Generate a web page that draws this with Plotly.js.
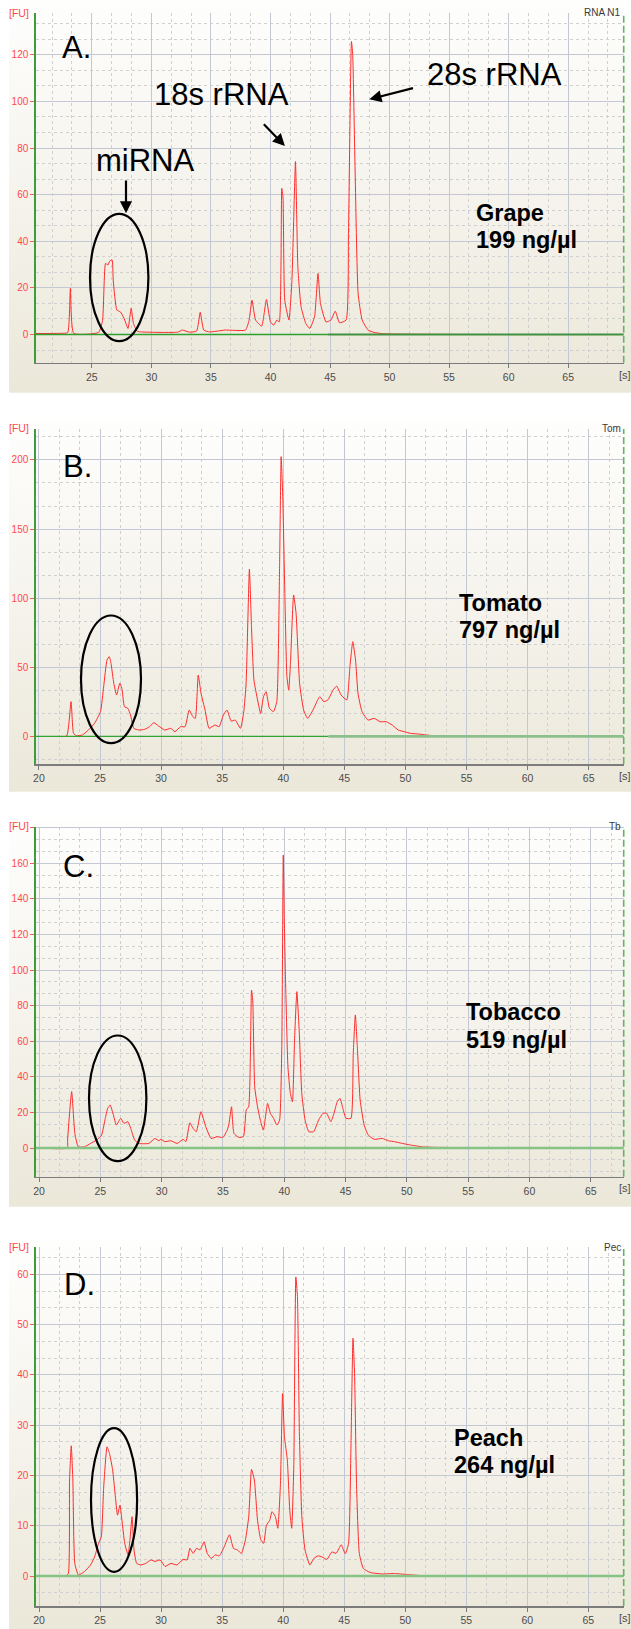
<!DOCTYPE html>
<html><head><meta charset="utf-8">
<script src="https://cdn.plot.ly/plotly-3.0.1.min.js"></script>
<style>html,body{margin:0;padding:0;background:#fff}#chart{width:631px;height:1629px}</style>
</head><body><div id="chart"></div>
<script>
// ---------------- DATA ----------------
const timeA = [20.3,22.4,22.97,23.2,23.48,25.57,25.9,26.15,26.35,26.5,26.7,26.8,27.1,27.4,27.7,28.04,28.3,28.5,28.8,29.1,32.2,32.6,33.2,33.8,34.1,34.4,34.9,36.2,37.9,38.2,38.45,38.75,39.26,39.66,40.0,40.27,40.54,40.74,40.95,41.05,41.2,41.55,41.8,42.1,42.3,42.57,42.97,43.3,43.7,43.99,44.2,44.66,45.07,45.44,45.8,46.35,46.55,46.8,46.9,47.1,47.36,47.7,48.2,48.7,49.5,69.66];
const fuA   = [0.4,0.5,0.8,19.8,0.5,0.9,6,30.5,29.8,31.5,32,23,10.5,9.7,7,2.6,11.2,4.7,1.4,1.1,1.0,1.9,1.0,1.5,9.5,1.9,1.1,1.9,1.9,6,14.7,6.2,3.6,15,5.4,4,6.2,5.4,62.7,59,14.7,6.2,23,74.2,29,11.9,4.7,2.6,7.6,26.2,13.3,5.4,6.2,10,5,6.2,43.4,125.7,120.7,72,17.6,6.2,1.9,0.9,0.3,0];

const timeB = [21.5,22.27,22.63,22.83,23.06,23.56,24.05,24.55,25.04,25.3,25.57,25.76,25.9,26.13,26.36,26.62,26.79,27.0,27.28,27.5,27.77,28.17,28.66,29.06,29.4,29.8,30.3,30.8,31.13,31.6,31.96,32.3,32.6,32.8,33.04,33.27,33.6,33.93,34.4,34.75,35.1,35.4,35.74,36.07,36.5,36.77,36.96,37.23,37.4,37.6,37.9,38.15,38.38,38.6,38.87,39.2,39.47,39.7,39.83,39.96,40.13,40.3,40.45,40.59,40.85,41.05,41.34,41.67,42.0,42.43,42.99,43.32,43.65,44.08,44.37,44.74,45.2,45.46,45.69,45.92,46.12,46.45,46.94,47.44,47.93,48.43,48.92,49.41,49.9,50.4,51.06,51.7,52.7,67.87];
const fuB   = [0,0.3,25.1,2.2,0.5,1,4.6,9.4,17.9,36,55.2,57.7,52.8,38.4,29.9,38.4,34.7,21.5,20.3,15.4,5.8,4.6,5.1,7,9.9,7.5,4.6,5.8,3.4,7,7,19,14.2,13,44.4,31.1,19,5.8,8.2,7,15.4,19,11,11.8,5.8,17.9,38.4,121,79.4,40.8,26.3,16.6,28.7,32.3,20.3,17.9,25.1,122.8,202.4,173.5,103.5,43.2,33.5,52.8,102.3,89,38.4,19,13,19,28.7,25.1,26.3,33.5,36.4,29.9,26.3,50.4,68.5,55.2,31.1,17.9,11.8,13,10.6,10.6,8.2,4.6,3.4,2.2,1.7,1,0.2,0];

const timeC = [20.2,22.3,22.33,22.66,22.92,23.2,23.7,24.2,24.7,25.1,25.4,25.6,25.8,26.07,26.3,26.66,26.92,27.25,27.48,27.8,28.14,28.96,29.45,29.78,29.94,30.27,30.76,31.26,31.75,31.98,32.3,32.57,32.83,33.2,33.6,34.03,34.52,35.0,35.35,35.5,35.7,35.9,36.3,36.67,36.9,37.1,37.33,37.43,37.59,37.82,38.08,38.3,38.64,38.87,39.13,39.4,39.62,39.8,39.92,40.0,40.1,40.3,40.5,40.67,40.84,41.03,41.23,41.43,41.7,42.0,42.4,42.8,43.16,43.46,43.8,44.06,44.32,44.55,44.78,45.04,45.44,45.63,45.8,45.96,46.19,46.52,46.85,47.34,48.0,48.5,48.98,49.64,50.3,51.28,52.26,67.69];
const fuC   = [0,0,5,31.7,8.2,0.7,0.7,2.6,4.5,7.3,16.7,22.3,24.2,18.5,12.9,16.7,13.9,14.8,11,4.5,2.6,2.6,5.4,4.1,4.9,3.6,4.1,2.6,4.9,3.6,14.2,11,9.2,20.4,12,5.4,6.4,6,10.1,13.9,23.2,8.2,6,6.4,21.4,23.2,88.8,83.2,34.5,23.2,14.8,10.1,25.1,19.5,16.7,12.9,15.7,57,164.7,130,96.3,45.7,30.7,26,60.7,87.9,64.4,30.7,15.7,9.2,9.2,15.7,19.5,19.5,14.8,19.5,26,27.9,22.3,16.7,16.7,53.2,74.8,57,27,12.9,7.3,4.9,5.4,4.1,3.6,2.6,1.7,0.7,0.4,0];

const timeD = [20.1,22.18,22.4,22.5,22.64,22.77,22.93,23.23,23.73,24.22,24.55,24.88,25.1,25.3,25.57,25.77,26.03,26.23,26.43,26.63,26.79,27.02,27.29,27.45,27.62,27.78,28.0,28.34,28.74,29.17,29.5,29.92,30.32,30.81,31.31,31.8,32.13,32.36,32.63,32.9,33.19,33.52,33.78,34.11,34.44,34.77,35.17,35.6,35.93,36.25,36.58,36.91,37.18,37.41,37.64,37.9,38.17,38.4,38.63,38.9,39.09,39.36,39.56,39.78,39.95,40.11,40.34,40.54,40.7,40.87,41.04,41.17,41.33,41.53,41.79,42.19,42.52,42.85,43.18,43.58,44.0,44.33,44.76,45.09,45.36,45.55,45.72,45.85,46.01,46.24,46.57,47.13,48.12,49.11,50.1,51.42,67.9];
const fuD   = [0,0,0.5,19.1,25.9,19.1,2.5,0.2,0.9,2.2,3.8,6.5,7.8,17.8,25.7,24.4,21.1,16.4,12.1,14.1,11.1,6.5,4.2,7.2,11.8,5.2,2.5,2.2,2.5,3.2,2.9,3.2,1.9,2.5,2.2,3.3,3.2,5.5,4.5,5.5,5.2,6.8,4.5,3.5,4.2,4,5.8,8.2,5.5,5.2,4.5,7.2,11.8,21.2,19.1,11.1,7.2,6.5,10.1,11.1,12.8,11.8,9.5,18.4,36.3,27.7,23.1,13.1,9.5,21.7,59.5,55.6,28.4,11.8,5.2,2.2,3.5,4,3.8,3.3,4.8,4.5,6.2,4.4,6.5,25.1,47.3,40.3,18.4,4.5,1.5,0.7,0.4,0.5,0.3,0.07,0];

const panelLetters   = ['A.','B.','C.','D.'];
const sampleNames    = ['Grape','Tomato','Tobacco','Peach'];
const concentrations = ['199 ng/µl','797 ng/µl','519 ng/µl','264 ng/µl'];
const runLabels      = ['RNA N1','Tom','Tb','Pec'];
const yDticks        = [20,50,20,10];
const yLabelMax      = [120,200,160,60];
const peakLabels     = ['miRNA','18s rRNA','28s rRNA'];

// ---------------- LAYOUT CONFIG ----------------
const W = 631, H = 1629;
const px = v => v / W, py = v => 1 - v / H;
const FONT = 'Liberation Sans, Arial, Helvetica, sans-serif';

const panels = [
  {top:13.3, bot:362.7, xr:[20.27,69.66], yr:[-12.1,137.8], bgTop:0, bgBot:392.7, tickY:375,
   letter:[60.5,47.5], name:[475,213.3], conc:[475,240], run:13, ell:[90,213.8,148.4,341.2],
   base:[[20.27,44.8,'#2f9f2f',1.3],[44.8,69.66,'#3f913f',1.8]]},
  {top:429, bot:764, xr:[19.72,67.87], yr:[-20,222.4], bgTop:420.7, bgBot:791.7, tickY:775.7,
   letter:[62,466.2], name:[457.5,602.9], conc:[457.5,630.2], run:428.3, ell:[81,615.5,141,743.2],
   base:[[19.72,43.7,'#33a333',1.3],[43.7,67.87,'#8cbf8c',2.6]]},
  {top:826.7, bot:1176.7, xr:[19.71,67.69], yr:[-16.1,180.6], bgTop:820, bgBot:1206.7, tickY:1188.3,
   letter:[62,866.7], name:[465,1011.7], conc:[465,1039.5], run:826, ell:[89,1035.5,146.4,1161.2],
   base:[[19.71,67.69,'#86c486',2.4]]},
  {top:1247.3, bot:1606, xr:[19.71,67.9], yr:[-5.97,65.4], bgTop:1240, bgBot:1629, tickY:1618.3,
   letter:[63.2,1284.5], name:[453,1438], conc:[453,1465], run:1247.3, ell:[91,1428.2,137.1,1571.8],
   base:[[19.71,67.9,'#86c486',2.4]]}
];
const series = [[timeA,fuA],[timeB,fuB],[timeC,fuC],[timeD,fuD]];

function bgImage(){
  const c = document.createElement('canvas'); c.width = W; c.height = H;
  const g = c.getContext('2d');
  g.fillStyle = '#ffffff'; g.fillRect(0,0,W,H);
  panels.forEach(p => {
    const gr = g.createLinearGradient(0,p.bgTop,0,p.bgBot);
    gr.addColorStop(0,'#fefefd'); gr.addColorStop(0.5,'#f5f3ec'); gr.addColorStop(1,'#ebe7d9');
    g.fillStyle = gr; g.fillRect(9,p.bgTop,W-9,p.bgBot-p.bgTop);
  });
  return c.toDataURL('image/png');
}

const traces = [], shapes = [], annotations = [];
const layout = {
  width: W, height: H, autosize: false, showlegend: false,
  margin: {l:0,r:0,t:0,b:0,pad:0},
  paper_bgcolor: '#ffffff', plot_bgcolor: 'rgba(0,0,0,0)',
  font: {family: FONT},
  images: [{source: bgImage(), xref:'paper', yref:'paper', x:0, y:1, sizex:1, sizey:1,
            xanchor:'left', yanchor:'top', sizing:'stretch', layer:'below'}],
  shapes, annotations
};

panels.forEach((p, i) => {
  const n = i === 0 ? '' : String(i+1);
  const xa = 'x' + n, ya = 'y' + n;
  traces.push({x: series[i][0], y: series[i][1], xaxis: xa, yaxis: ya, type: 'scatter', mode: 'lines',
               line: {color: '#ff2b2b', width: 1, shape: 'spline', smoothing: 0.45}, hoverinfo: 'skip'});
  layout['xaxis' + n] = {
    domain: [px(35.5), px(623.7)], range: p.xr, anchor: ya, fixedrange: true,
    tick0: 0, dtick: 5, ticks: 'outside', ticklen: 4, tickcolor: '#7a7a7a', tickwidth: 1,
    tickfont: {size: 10.5, color: '#4d4d4d', family: FONT},
    showgrid: true, gridcolor: '#c3c8d4', gridwidth: 1, zeroline: false,
    showline: true, linecolor: '#7c7c7c', linewidth: 1.5,
    minor: {tick0: 20, dtick: 5/3, showgrid: true, gridcolor: '#d0d0d0', griddash: 'dot', gridwidth: 1, ticks: ''}
  };
  const dy = yDticks[i];
  const tv = [], tt = [];
  for (let v = Math.ceil(p.yr[0]/dy)*dy; v <= p.yr[1]; v += dy) {
    tv.push(v); tt.push(v >= 0 && v <= yLabelMax[i] ? String(v) : '');
  }
  layout['yaxis' + n] = {
    domain: [py(p.bot), py(p.top)], range: p.yr, anchor: xa, fixedrange: true,
    tickmode: 'array', tickvals: tv, ticktext: tt, ticks: 'outside', ticklen: 4, tickcolor: '#ff5a5a', tickwidth: 1,
    tickfont: {size: 10, color: '#ff4a4a', family: FONT},
    showgrid: true, gridcolor: '#c3c8d4', gridwidth: 1, zeroline: false,
    showline: true, linecolor: '#3c9c3c', linewidth: 1.2,
    minor: {tickmode: 'linear', tick0: 0, dtick: dy/3, showgrid: true, gridcolor: '#d0d0d0', griddash: 'dot', gridwidth: 1, ticks: ''}
  };
  // baseline at 0
  p.base.forEach(b => shapes.push({type:'line', xref: xa, yref: ya, x0: b[0], x1: b[1], y0: 0, y1: 0,
    line: {color: b[2], width: b[3]}, layer: 'above'}));
  // red dashes on left axis, green dashed right edge
  shapes.push({type:'line', xref: xa + ' domain', yref: ya + ' domain', x0: 0, x1: 0, y0: 0, y1: 1,
    line: {color: 'rgba(255,70,70,0.8)', width: 1, dash: '4px,7px'}, layer: 'above'});
  shapes.push({type:'line', xref: xa + ' domain', yref: ya + ' domain', x0: 1, x1: 1, y0: 0, y1: 1,
    line: {color: '#63b563', width: 1.6, dash: '7px,3px'}, layer: 'above'});
  // ellipse
  shapes.push({type:'circle', xref:'paper', yref:'paper', x0: px(p.ell[0]), x1: px(p.ell[2]),
    y0: py(p.ell[3]), y1: py(p.ell[1]), line: {color: '#000000', width: 2.2}, layer: 'above'});
  // texts
  annotations.push({text: panelLetters[i], xref:'paper', yref:'paper', x: px(p.letter[0]), y: py(p.letter[1]),
    xanchor:'left', yanchor:'middle', showarrow:false, borderpad:0, font:{size:31, color:'#000', family: FONT}});
  annotations.push({text: '<b>' + sampleNames[i] + '</b>', xref:'paper', yref:'paper', x: px(p.name[0]), y: py(p.name[1]),
    xanchor:'left', yanchor:'middle', showarrow:false, borderpad:0, font:{size:23.5, color:'#000', family: FONT}});
  annotations.push({text: '<b>' + concentrations[i] + '</b>', xref:'paper', yref:'paper', x: px(p.conc[0]), y: py(p.conc[1]),
    xanchor:'left', yanchor:'middle', showarrow:false, borderpad:0, font:{size:23.5, color:'#000', family: FONT}});
  annotations.push({text: runLabels[i], xref:'paper', yref:'paper', x: px(621.5), y: py(p.run),
    xanchor:'right', yanchor:'middle', showarrow:false, borderpad:0, font:{size:10, color:'#3a3a3a', family: FONT}});
  annotations.push({text: '[FU]', xref:'paper', yref:'paper', x: px(19.3), y: py(p.run),
    xanchor:'center', yanchor:'middle', showarrow:false, borderpad:0, font:{size:10.5, color:'#ff4a4a', family: FONT}});
  annotations.push({text: '[s]', xref:'paper', yref:'paper', x: px(624.7), y: py(p.tickY),
    xanchor:'center', yanchor:'middle', showarrow:false, borderpad:0, font:{size:11, color:'#4d4d4d', family: FONT}});
});

// peak labels in panel A
const peakPos = [[144.5,160.3],[221,94.2],[494.5,74.2]];
peakLabels.forEach((t, k) => annotations.push({text: t, xref:'paper', yref:'paper', x: px(peakPos[k][0]), y: py(peakPos[k][1]),
  xanchor:'center', yanchor:'middle', showarrow:false, borderpad:0, font:{size:31, color:'#000', family: FONT}}));
// arrows: [tipX, tipY, tailX, tailY]
const arrows = [[126,213.3,126,179],[284.9,146,262.4,122.7],[369.4,99.3,414.5,87.7]];
arrows.forEach(a => annotations.push({text:'', xref:'paper', yref:'paper', x: px(a[0]), y: py(a[1]),
  ax: a[2]-a[0], ay: a[3]-a[1], showarrow:true, arrowhead:2, arrowsize:1.1, arrowwidth:2.2, arrowcolor:'#000', standoff:0}));

Plotly.newPlot('chart', traces, layout, {staticPlot: true, displayModeBar: false});
</script>
</body></html>
